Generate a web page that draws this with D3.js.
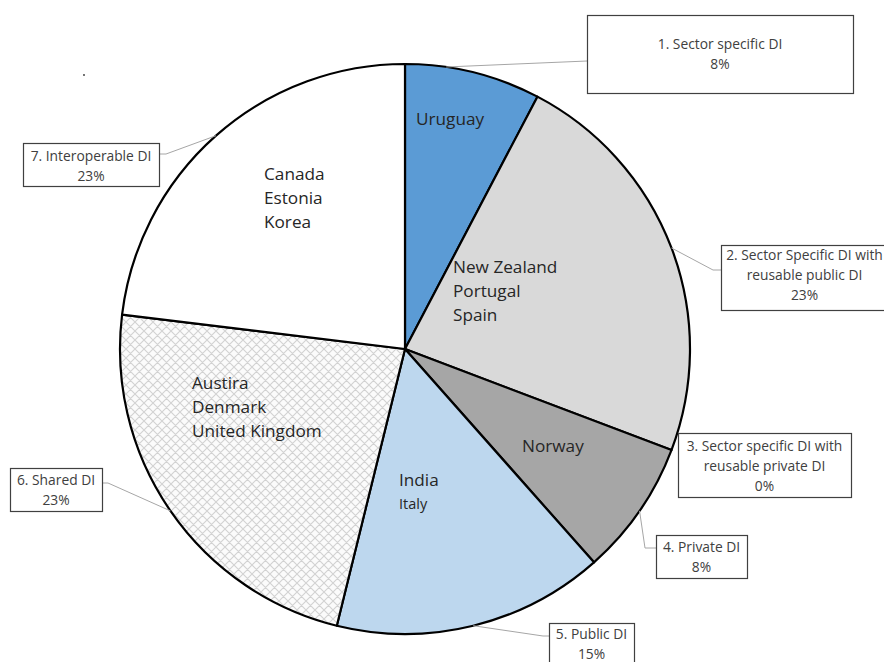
<!DOCTYPE html>
<html>
<head>
<meta charset="utf-8">
<script src="https://cdn.jsdelivr.net/npm/d3@7"></script>
<style>
  html, body { margin: 0; padding: 0; background: #fff; }
  svg { display: block; }
</style>
</head>
<body>
<svg id="chart" width="884" height="662"></svg>
<script>
// Digital identity models: number of countries per model
const models = [
  "1. Sector specific DI",
  "2. Sector Specific DI with reusable public DI",
  "3. Sector specific DI with reusable private DI",
  "4. Private DI",
  "5. Public DI",
  "6. Shared DI",
  "7. Interoperable DI"
];
const countryCounts = [1, 3, 0, 1, 2, 3, 3];
const countries = [
  ["Uruguay"],
  ["New Zealand", "Portugal", "Spain"],
  [],
  ["Norway"],
  ["India", "Italy"],
  ["Austira", "Denmark", "United Kingdom"],
  ["Canada", "Estonia", "Korea"]
];
const sliceFills = ["#5b9bd5", "#d9d9d9", "#7f7f7f", "#a6a6a6", "#bdd7ee", "url(#hatch)", "#ffffff"];

// Label box layout: box rectangle, title lines, leader elbow
const boxes = [
  { x: 587, y: 15,  w: 266, h: 78, lines: ["1. Sector specific DI"], ty: 45, elbow: null, joinY: 61 },
  { x: 721, y: 245, w: 175, h: 65, lines: ["2. Sector Specific DI with", "reusable public DI"], ty: 256, elbow: [713, 270], joinY: 270 },
  { x: 678, y: 433, w: 173, h: 64, lines: ["3. Sector specific DI with", "reusable private DI"], ty: 447, elbow: null, joinY: null },
  { x: 656, y: 535, w: 91,  h: 43, lines: ["4. Private DI"], ty: 548, elbow: [645, 548], joinY: 548 },
  { x: 549, y: 623, w: 85,  h: 50, lines: ["5. Public DI"], ty: 635, elbow: [543, 636], joinY: 636 },
  { x: 10,  y: 468, w: 92,  h: 43, lines: ["6. Shared DI"], ty: 481, elbow: [108, 483], joinY: 483 },
  { x: 23,  y: 143, w: 136, h: 43, lines: ["7. Interoperable DI"], ty: 157, elbow: [166, 154], joinY: 154 }
];
// Country text anchor (left x, first line centre y) per slice
const countryPos = [
  [416, 120], [453, 268], null, [522, 447], [399, 481], [192, 384], [264, 175]
];

const svg = d3.select("#chart");
const cx = 405, cy = 349, R = 285;
const total = d3.sum(countryCounts);
const pct = v => Math.round(v / total * 100) + "%";

// crosshatch pattern for the shared slice
const defs = svg.append("defs");
const pat = defs.append("pattern")
  .attr("id", "hatch").attr("patternUnits", "userSpaceOnUse")
  .attr("width", 9).attr("height", 9);
pat.append("rect").attr("width", 9).attr("height", 9).attr("fill", "#fbfbfb");
pat.append("path").attr("d", "M0,0L9,9M9,0L0,9M-1,8L1,10M8,-1L10,1M-1,1L1,-1M8,10L10,8")
  .attr("stroke", "#d2d2d2").attr("stroke-width", 1.1).attr("fill", "none");

const pie = d3.pie().sort(null).value(d => d)(countryCounts);
const arc = d3.arc().innerRadius(0).outerRadius(R);

const g = svg.append("g").attr("transform", `translate(${cx},${cy})`);
g.selectAll("path.slice")
  .data(pie.filter(d => d.value > 0))
  .join("path")
  .attr("class", "slice")
  .attr("d", arc)
  .attr("fill", d => sliceFills[d.index])
  .attr("stroke", "#000")
  .attr("stroke-width", 2.2)
  .attr("stroke-linejoin", "round");

// leader lines from slice midpoints on the rim
const rimPoint = (d, shift) => {
  const a = d.startAngle + (d.endAngle - d.startAngle) * shift;
  return [cx + R * Math.sin(a), cy - R * Math.cos(a)];
};
pie.forEach((d, i) => {
  const b = boxes[i];
  if (d.value === 0 || b.joinY === null) return;
  const p = rimPoint(d, i === 0 ? 0.3 : 0.5);
  const pts = [p];
  if (b.elbow) pts.push(b.elbow);
  const boxEdgeX = (b.x > cx) ? b.x : b.x + b.w;
  pts.push([boxEdgeX, b.joinY]);
  svg.append("path")
    .attr("d", d3.line()(pts))
    .attr("fill", "none").attr("stroke", "#a6a6a6").attr("stroke-width", 1);
});

// label boxes
const lbl = svg.append("g").attr("font-family", "'Open Sans', Lato, sans-serif")
  .attr("font-size", 13.8).attr("fill", "#404040");
boxes.forEach((b, i) => {
  lbl.append("rect").attr("x", b.x + 0.5).attr("y", b.y + 0.5)
    .attr("width", b.w).attr("height", b.h)
    .attr("fill", "#fff").attr("stroke", "#404040").attr("stroke-width", 1.2);
  const cxBox = b.x + b.w / 2 + (i === 1 ? -4 : 0);
  const all = b.lines.concat([pct(countryCounts[i])]);
  all.forEach((t, k) => {
    lbl.append("text").attr("x", cxBox).attr("y", b.ty + k * 20.3)
      .attr("text-anchor", "middle").attr("dominant-baseline", "middle").text(t);
  });
});

// country names inside slices
const ct = svg.append("g").attr("font-family", "'Open Sans', Lato, sans-serif")
  .attr("fill", "#262626");
countries.forEach((list, i) => {
  const pos = countryPos[i];
  if (!pos) return;
  list.forEach((name, k) => {
    ct.append("text").attr("x", pos[0]).attr("y", pos[1] + k * 24)
      .attr("dominant-baseline", "middle")
      .attr("font-size", (i === 4 && k === 1) ? 14.5 : 17.2)
      .text(name);
  });
});

// stray dot in the upper left
svg.append("circle").attr("cx", 84).attr("cy", 75).attr("r", 0.9).attr("fill", "#333");
</script>
</body>
</html>
